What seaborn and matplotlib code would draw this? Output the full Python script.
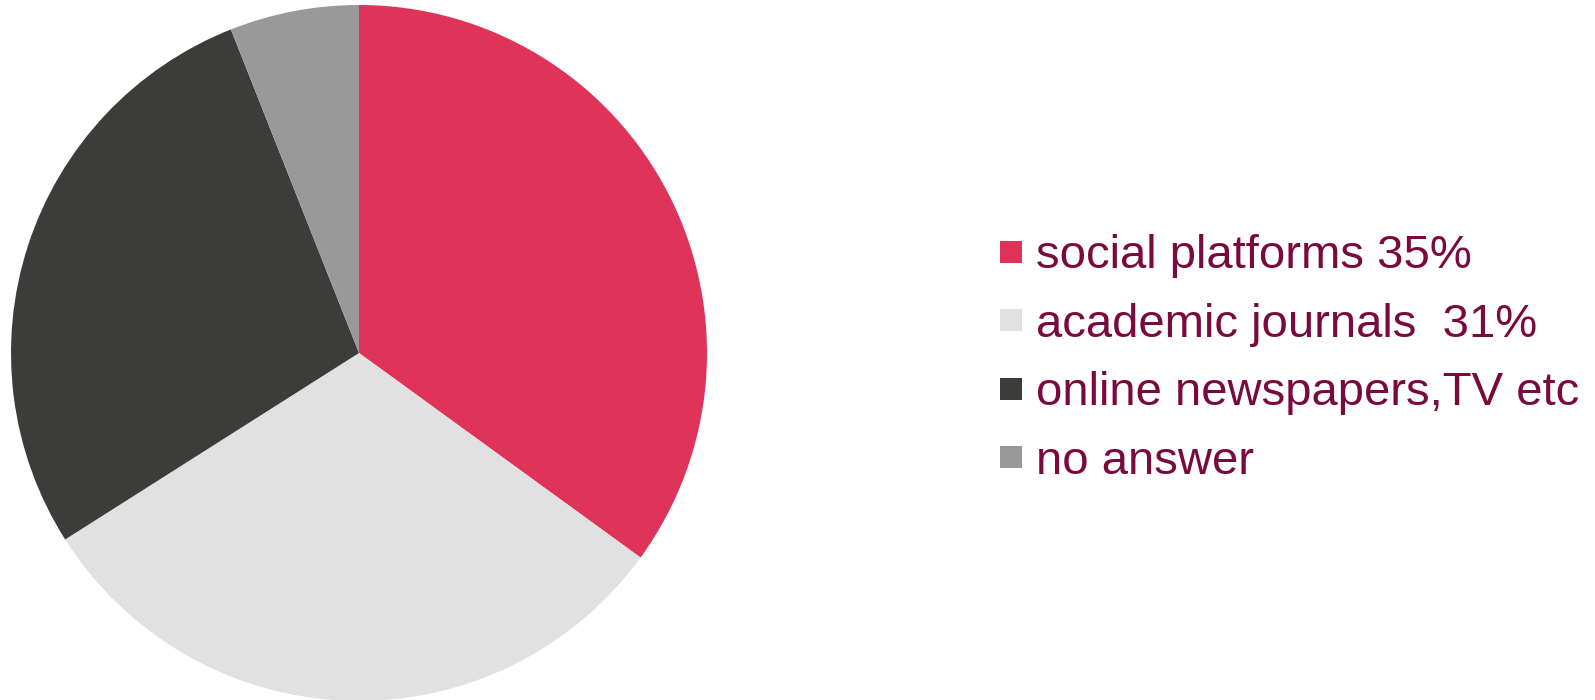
import matplotlib
matplotlib.use("Agg")
import matplotlib.pyplot as plt
from matplotlib.lines import Line2D
import seaborn as sns

# Survey: where respondents get their information
categories = ["social platforms 35%", "academic journals  31%",
              "online newspapers,TV etc", "no answer"]
shares = [35, 31, 28, 6]
slice_colors = ["#E0335A", "#E1E1E1", "#3C3C3B", "#999999"]
text_color = "#7A0A3E"

sns.set_theme(style="white")
plt.rcParams["font.family"] = ["Liberation Sans", "DejaVu Sans"]

W, H = 1595, 700
fig = plt.figure(figsize=(W / 100, H / 100), dpi=100)
fig.patch.set_facecolor("white")

# pie axes in pixel coordinates: centre (359, 347 from bottom), radius 348
cx, cy, r = 359, 347, 348
ax = fig.add_axes([(cx - r) / W, (cy - r) / H, 2 * r / W, 2 * r / H])
palette = sns.color_palette(slice_colors)
ax.pie(shares, colors=palette, startangle=90, counterclock=False,
       radius=1.0, wedgeprops=dict(linewidth=0))
ax.set_xlim(-1, 1)
ax.set_ylim(-1, 1)
ax.set_aspect("equal")
ax.axis("off")

handles = [Line2D([], [], linestyle="none", marker="s", markersize=16,
                  markerfacecolor=c, markeredgewidth=0) for c in palette]
leg = fig.legend(handles, categories, loc="center left",
                 bbox_to_anchor=(997 / W, 341 / H), frameon=False,
                 fontsize=34, labelcolor=text_color, handlelength=0.6,
                 handletextpad=0.23, labelspacing=0.52, borderpad=0,
                 borderaxespad=0)

fig.savefig("out.png", dpi=100, facecolor="white")
